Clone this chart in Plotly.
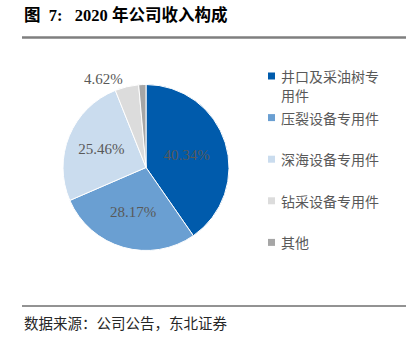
import plotly.graph_objects as go

# Revenue breakdown, 2020 (%)
labels = ["井口及采油树专用件", "压裂设备专用件", "深海设备专用件", "钻采设备专用件", "其他"]
legend_lines = [["井口及采油树专", "用件"], ["压裂设备专用件"], ["深海设备专用件"], ["钻采设备专用件"], ["其他"]]
shares = [40.34, 28.17, 25.46, 4.62, 1.41]
colors = ["#005BAC", "#6A9FD2", "#CADCEE", "#DCDCDC", "#A6A6A6"]
text_pos = ["inside", "inside", "inside", "outside", "none"]

SERIF_CJK = "Liberation Serif, Times New Roman, Noto Sans CJK SC"
CJK = "Noto Sans CJK SC"
W, H = 410, 340
NB = "\u00a0"

fig = go.Figure()
fig.add_trace(go.Pie(
    labels=labels,
    values=shares,
    sort=False,
    direction="clockwise",
    rotation=0,
    marker=dict(colors=colors, line=dict(color="white", width=1)),
    texttemplate="%{value:.2f}%",
    textposition=text_pos,
    insidetextfont=dict(family=SERIF_CJK, size=15, color="#595959"),
    outsidetextfont=dict(family=SERIF_CJK, size=15, color="#595959"),
    showlegend=False,
    domain=dict(x=[63 / W, 229 / W], y=[(H - 250.5) / H, (H - 84.5) / H]),
    hoverinfo="label+percent",
))

shapes = []
annotations = []

# Manual legend: square swatch + label lines, evenly spaced entries
leg_x0, leg_y0, leg_gap, line_h = 268, 76, 41.6, 19
for i, (lines, col) in enumerate(zip(legend_lines, colors)):
    yc = leg_y0 + i * leg_gap
    shapes.append(dict(type="rect", xref="paper", yref="paper",
                       x0=leg_x0 / W, x1=(leg_x0 + 7) / W,
                       y0=1 - (yc + 3.5) / H, y1=1 - (yc - 3.5) / H,
                       fillcolor=col, line=dict(width=0)))
    for j, txt in enumerate(lines):
        annotations.append(dict(text=txt, xref="paper", yref="paper",
                                x=279 / W, y=1 - (yc + j * line_h) / H,
                                xanchor="left", yanchor="middle", align="left",
                                showarrow=False,
                                font=dict(family=CJK, size=14, color="#595959")))

# Title and rules
title = f"<b>图{NB}{NB}7:{NB}{NB}{NB}2020{NB}年公司收入构成</b>"
annotations.append(dict(text=title, xref="paper", yref="paper",
                        x=22 / W, y=1 - 15 / H, xanchor="left", yanchor="middle",
                        showarrow=False,
                        font=dict(family=SERIF_CJK, size=16.5, color="#000000")))
shapes.append(dict(type="line", xref="paper", yref="paper",
                   x0=22 / W, x1=406 / W, y0=1 - 37.5 / H, y1=1 - 37.5 / H,
                   line=dict(color="#7F7F7F", width=2.5)))
shapes.append(dict(type="line", xref="paper", yref="paper",
                   x0=22 / W, x1=406 / W, y0=1 - 306 / H, y1=1 - 306 / H,
                   line=dict(color="#262626", width=1)))
annotations.append(dict(text="数据来源：公司公告，东北证券", xref="paper", yref="paper",
                        x=22 / W, y=1 - 322 / H, xanchor="left", yanchor="middle",
                        showarrow=False,
                        font=dict(family=CJK, size=14.5, color="#262626")))

fig.update_layout(
    width=W, height=H,
    margin=dict(l=0, r=0, t=0, b=0),
    paper_bgcolor="white",
    plot_bgcolor="white",
    shapes=shapes,
    annotations=annotations,
)

fig.write_html("out.html")
